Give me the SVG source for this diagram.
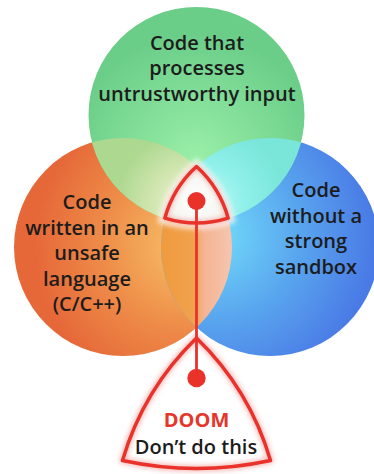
<svg xmlns="http://www.w3.org/2000/svg" width="374" height="474" viewBox="0 0 374 474">
  <defs>
    <radialGradient id="gGreen" gradientUnits="userSpaceOnUse" cx="196" cy="160" r="125">
      <stop offset="0" stop-color="#9aefa8"/>
      <stop offset="1" stop-color="#6bce89"/>
    </radialGradient>
    <radialGradient id="gOrange" gradientUnits="userSpaceOnUse" cx="185" cy="245" r="150">
      <stop offset="0" stop-color="#f7c168"/>
      <stop offset="0.55" stop-color="#ee8c48"/>
      <stop offset="1" stop-color="#e66839"/>
    </radialGradient>
    <radialGradient id="gBlue" gradientUnits="userSpaceOnUse" cx="215" cy="235" r="160">
      <stop offset="0" stop-color="#72dcf9"/>
      <stop offset="0.5" stop-color="#5aa8ef"/>
      <stop offset="1" stop-color="#4a7ae5"/>
    </radialGradient>
    <linearGradient id="gLensOB" gradientUnits="userSpaceOnUse" x1="160" y1="0" x2="234" y2="0">
      <stop offset="0" stop-color="#ef9a3e"/>
      <stop offset="0.45" stop-color="#f1a24c"/>
      <stop offset="0.6" stop-color="#f4b494"/>
      <stop offset="1" stop-color="#f6c6b0"/>
    </linearGradient>
    <radialGradient id="gLensGO" gradientUnits="userSpaceOnUse" cx="190" cy="205" r="75">
      <stop offset="0" stop-color="#f0f4dc"/>
      <stop offset="0.5" stop-color="#d2e6b0"/>
      <stop offset="1" stop-color="#acd890"/>
    </radialGradient>
    <radialGradient id="gLensGB" gradientUnits="userSpaceOnUse" cx="205" cy="205" r="80">
      <stop offset="0" stop-color="#c4f8f4"/>
      <stop offset="0.5" stop-color="#90f0ea"/>
      <stop offset="1" stop-color="#7ae6da"/>
    </radialGradient>
    <radialGradient id="gCore" gradientUnits="userSpaceOnUse" cx="196.5" cy="200" r="35">
      <stop offset="0" stop-color="#ffffff"/>
      <stop offset="1" stop-color="#f1f3ec"/>
    </radialGradient>
    <clipPath id="clipOrange"><circle cx="123" cy="247" r="109"/></clipPath>
    <clipPath id="clipBlue"><circle cx="270" cy="247" r="109"/></clipPath>
    <filter id="soft" x="-20%" y="-20%" width="140%" height="140%">
      <feGaussianBlur stdDeviation="2.5"/>
    </filter>
    <filter id="edge" x="-5%" y="-5%" width="110%" height="110%">
      <feGaussianBlur stdDeviation="0.6"/>
    </filter>
    <path id="corePath" d="M196.5 166.5 A109 109 0 0 0 164.8 218.2 A108 108 0 0 0 228.2 218.2 A109 109 0 0 0 196.5 166.5 Z"/>
    <path id="doomPath" d="M196.5 338 A280 280 0 0 0 122.5 460.5 A350 350 0 0 0 270.5 460.5 A280 280 0 0 0 196.5 338 Z"/>
  </defs>
  <style>
    .label { font-family: "Open Sans", "Noto Sans", "Liberation Sans", sans-serif; font-size: 20px; font-weight: 600; fill: #1c1c1c; text-anchor: middle; }
    .doom { fill: #e5362a; font-weight: 700; }
    .red { stroke: #e8322a; fill: none; stroke-linejoin: round; }
    .dot { fill: #e8322a; }
  </style>

  <rect width="374" height="474" fill="#ffffff"/>

  <!-- Three sets -->
  <g id="circle-unsafe" filter="url(#edge)">
    <circle cx="123" cy="247" r="109" fill="url(#gOrange)"/>
  </g>
  <g id="circle-sandbox" filter="url(#edge)">
    <circle cx="270" cy="247" r="109" fill="url(#gBlue)"/>
  </g>
  <g id="circle-input" filter="url(#edge)">
    <circle cx="196.5" cy="115" r="108" fill="url(#gGreen)"/>
  </g>

  <!-- Pairwise overlaps -->
  <g id="overlaps" filter="url(#edge)">
    <circle cx="270" cy="247" r="109" fill="url(#gLensOB)" clip-path="url(#clipOrange)"/>
    <circle cx="196.5" cy="115" r="108" fill="url(#gLensGO)" clip-path="url(#clipOrange)"/>
    <circle cx="196.5" cy="115" r="108" fill="url(#gLensGB)" clip-path="url(#clipBlue)"/>
  </g>

  <!-- Set labels -->
  <g id="labels">
    <text class="label" x="197" y="49.5">Code that</text>
    <text class="label" x="197" y="75">processes</text>
    <text class="label" x="197" y="100.5">untrustworthy input</text>

    <text class="label" x="87" y="209">Code</text>
    <text class="label" x="87" y="234.5">written in an</text>
    <text class="label" x="87" y="260">unsafe</text>
    <text class="label" x="87" y="285.5">language</text>
    <text class="label" x="87" y="311">(C/C++)</text>

    <text class="label" x="316" y="197">Code</text>
    <text class="label" x="316" y="222.5">without a</text>
    <text class="label" x="316" y="248">strong</text>
    <text class="label" x="316" y="273.5">sandbox</text>
  </g>

  <!-- Triple intersection -->
  <g id="intersection">
    <use href="#corePath" fill="#ffffff" stroke="#ffffff" stroke-width="12" opacity="0.85" filter="url(#soft)"/>
    <use href="#corePath" fill="url(#gCore)"/>
    <use href="#corePath" class="red" stroke-width="5" opacity="0.35" filter="url(#soft)"/>
    <use href="#corePath" class="red" stroke-width="3.5"/>
    <circle class="dot" cx="196.5" cy="201" r="9"/>
  </g>

  <!-- Outcome -->
  <g id="doom">
    <use href="#doomPath" class="red" stroke-width="6" opacity="0.35" filter="url(#soft)"/>
    <use href="#doomPath" fill="#ffffff" class="red" stroke-width="3.5"/>
    <circle class="dot" cx="196.5" cy="378" r="9.2"/>
    <text class="label doom" x="196.5" y="426.5">DOOM</text>
    <text class="label" x="196" y="454">Don’t do this</text>
  </g>

  <g id="connectors">
    <line x1="196.5" y1="201" x2="196.5" y2="378" stroke="#e8322a" stroke-width="2.8"/>
  </g>
</svg>
